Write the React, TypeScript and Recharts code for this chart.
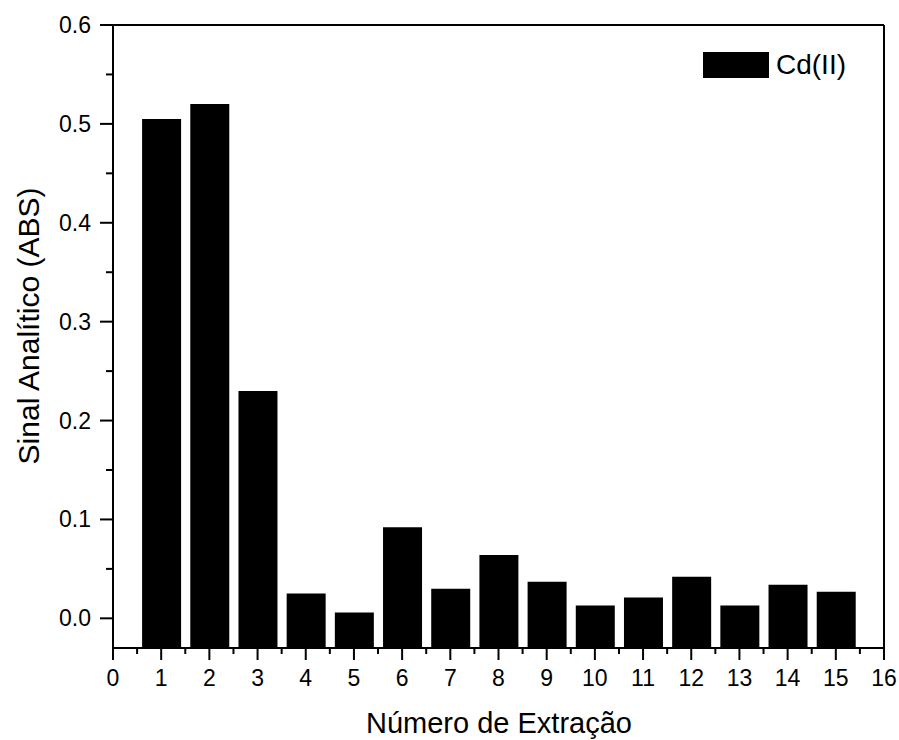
import { BarChart, Bar, XAxis, YAxis, ReferenceLine, Legend } from 'recharts';

const extractions = [1, 2, 3, 4, 5, 6, 7, 8, 9, 10, 11, 12, 13, 14, 15];
const cdSignal = [0.505, 0.52, 0.23, 0.025, 0.006, 0.092, 0.03, 0.064, 0.037, 0.013, 0.021, 0.042, 0.013, 0.034, 0.027];
const xMajorTicks = [0, 1, 2, 3, 4, 5, 6, 7, 8, 9, 10, 11, 12, 13, 14, 15, 16];
const xMinorTicks = [0.5, 1.5, 2.5, 3.5, 4.5, 5.5, 6.5, 7.5, 8.5, 9.5, 10.5, 11.5, 12.5, 13.5, 14.5, 15.5];
const yMajorTicks = ['0.0', '0.1', '0.2', '0.3', '0.4', '0.5', '0.6'];
const yMinorTicks = [0.05, 0.15, 0.25, 0.35, 0.45, 0.55];
const yMin = -0.03;
const yMax = 0.6;

const FONT = '"Liberation Sans", Arial, sans-serif';

const data = extractions.map((n, i) => ({ n, signal: cdSignal[i], range: [yMin, cdSignal[i]] }));
const yMajorValues = yMajorTicks.map(Number);
const xTicks = [...xMajorTicks, ...xMinorTicks].sort((a, b) => a - b);
const yTicks = [...yMajorValues, ...yMinorTicks].sort((a, b) => a - b);

const XTick = (props: any) => {
  const { x, y, payload } = props;
  const major = xMajorTicks.includes(payload.value);
  return (
    <g>
      <line x1={x} x2={x} y1={y} y2={y + (major ? 12 : 6)} stroke="#000" strokeWidth={2} />
      {major && (
        <text x={x} y={y + 30} textAnchor="middle" dominantBaseline="central" fontSize={23} fontFamily={FONT} fill="#000">
          {payload.value}
        </text>
      )}
    </g>
  );
};

const YTick = (props: any) => {
  const { x, y, payload } = props;
  const idx = yMajorValues.findIndex((v) => Math.abs(v - payload.value) < 1e-9);
  const major = idx >= 0;
  return (
    <g>
      <line x1={x} x2={x - (major ? 13 : 7)} y1={y} y2={y} stroke="#000" strokeWidth={2} />
      {major && (
        <text x={x - 22} y={y} textAnchor="end" dominantBaseline="central" fontSize={23} fontFamily={FONT} fill="#000">
          {yMajorTicks[idx]}
        </text>
      )}
    </g>
  );
};

const LegendBox = () => (
  <div style={{ display: 'flex', alignItems: 'center', fontFamily: FONT, fontSize: 28 }}>
    <div style={{ width: 66, height: 26, background: '#000', marginRight: 7 }} />
    <span>Cd(II)</span>
  </div>
);

export default function App() {
  return (
    <div style={{ position: 'absolute', left: 0, top: 0, width: 899, height: 740, background: '#fff', fontFamily: FONT }}>
      <BarChart width={899} height={740} data={data} margin={{ top: 25, right: 15, bottom: 0, left: 0 }}>
        <XAxis
          dataKey="n"
          type="number"
          domain={[0, 16]}
          ticks={xTicks}
          interval={0}
          height={92}
          tickSize={0}
          tickMargin={0}
          tickLine={false}
          tick={<XTick />}
          axisLine={{ stroke: '#000', strokeWidth: 2 }}
          allowDataOverflow
        />
        <YAxis
          type="number"
          domain={[yMin, yMax]}
          ticks={yTicks}
          interval={0}
          width={113}
          tickSize={0}
          tickMargin={0}
          tickLine={false}
          tick={<YTick />}
          axisLine={{ stroke: '#000', strokeWidth: 2 }}
          allowDataOverflow
        />
        <ReferenceLine y={yMax} stroke="#000" strokeWidth={2} ifOverflow="visible" />
        <ReferenceLine x={16} stroke="#000" strokeWidth={2} ifOverflow="visible" />
        <Legend
          layout="vertical"
          align="center"
          verticalAlign="middle"
          content={<LegendBox />}
          wrapperStyle={{ position: 'absolute', top: 49, left: 703, width: 'auto', height: 'auto' }}
        />
        <Bar dataKey="range" name="Cd(II)" fill="#000" barSize={39} isAnimationActive={false} />
      </BarChart>
      <svg width={899} height={740} style={{ position: 'absolute', left: 0, top: 0, pointerEvents: 'none' }}>
        <text x={499} y={733} textAnchor="middle" fontSize={29} fontFamily={FONT} fill="#000">
          Número de Extração
        </text>
        <text
          x={28}
          y={326}
          textAnchor="middle"
          dominantBaseline="central"
          fontSize={30}
          fontFamily={FONT}
          fill="#000"
          transform="rotate(-90 28 326)"
        >
          Sinal Analítico (ABS)
        </text>
      </svg>
    </div>
  );
}
